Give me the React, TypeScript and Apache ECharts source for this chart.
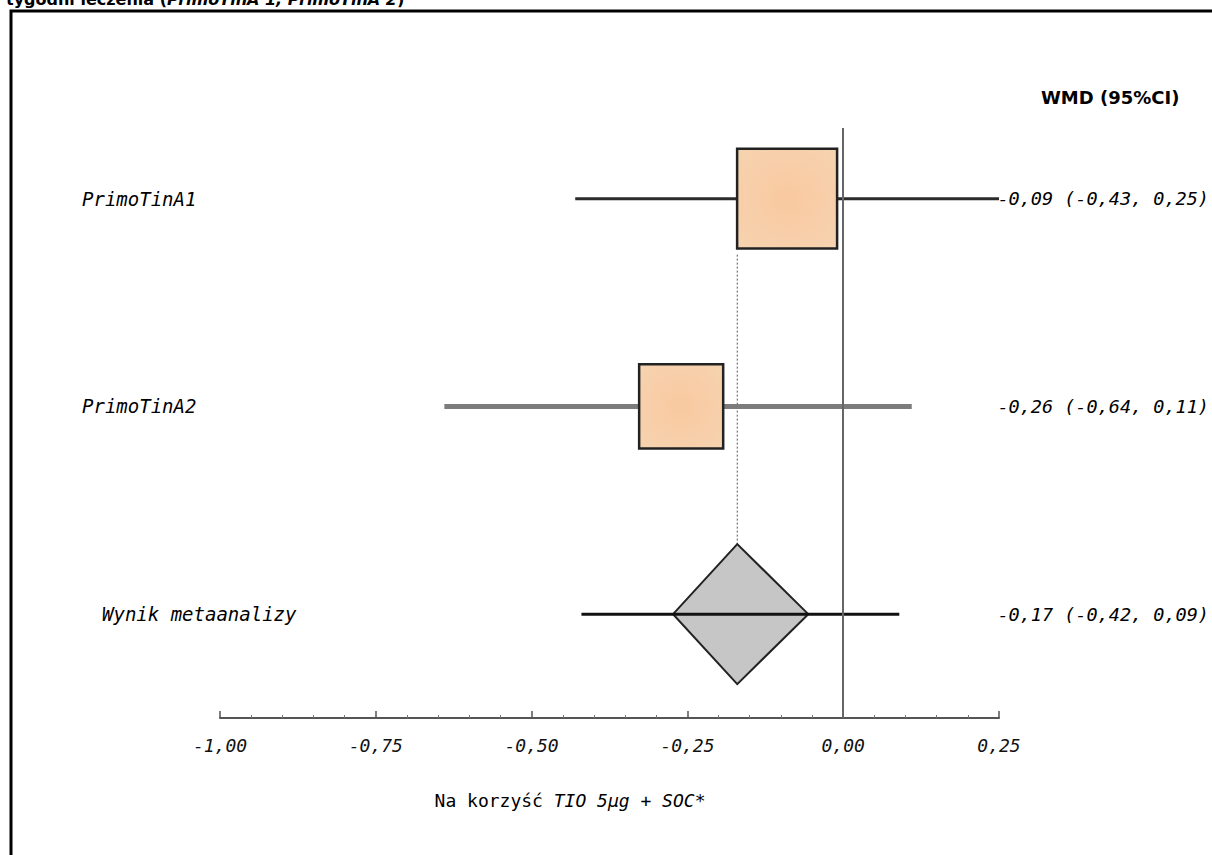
import React, { useEffect, useRef } from "react";
import * as echarts from "echarts";

// ---- data ----
const studyNames = ["PrimoTinA1", "PrimoTinA2"];
const studyRows = [2, 1];
const studyEstimates = [-0.09, -0.26];
const studyCiLow = [-0.43, -0.64];
const studyCiHigh = [0.25, 0.11];
const studyWeights = [58.6, 41.4];

const metaName = "Wynik metaanalizy";
const metaRow = 0;
const metaEstimate = -0.17;
const metaCiLow = -0.42;
const metaCiHigh = 0.09;
const metaDiamondLow = -0.273;
const metaDiamondHigh = -0.056;

const xMin = -1;
const xMax = 0.25;
const xInterval = 0.25;

const titleText = "tygodni leczenia (";
const titleItalic = "PrimoTinA 1, PrimoTinA 2";
const columnHeader = "WMD (95%CI)";
const axisNameNormal = "Na korzyść ";
const axisNameItalic = "TIO 5µg + SOC*";

// ---- styles ----
const MONO = '"DejaVu Sans Mono", monospace';
const SANS = '"DejaVu Sans", Verdana, sans-serif';
const BOX_SCALE = 13.06;
const DIAMOND_HALF = 70;
const ciStyles = [
  { color: "#2b2b2b", width: 3 },
  { color: "#7c7c7c", width: 5 },
];

const fmt = (v: number) => v.toFixed(2).replace(".", ",");

export default function App() {
  const ref = useRef<HTMLDivElement>(null);

  useEffect(() => {
    if (!ref.current) return;
    const chart = echarts.init(ref.current, null, { renderer: "svg" });

    const studyData = studyNames.map((_, i) => [
      studyEstimates[i],
      studyRows[i],
      studyCiLow[i],
      studyCiHigh[i],
      studyWeights[i],
    ]);
    const metaData = [[metaEstimate, metaRow, metaCiLow, metaCiHigh, metaDiamondLow, metaDiamondHigh]];
    const topRow = Math.max(...studyRows);
    const topIdx = studyRows.indexOf(topRow);

    const option: any = {
      animation: false,
      backgroundColor: "#ffffff",
      grid: { left: 220, right: 213, top: 128, bottom: 137 },
      xAxis: {
        type: "value",
        min: xMin,
        max: xMax,
        interval: xInterval,
        axisLine: { show: true, onZero: false, lineStyle: { color: "#555", width: 2 } },
        axisTick: { show: true, inside: true, length: 7, lineStyle: { color: "#555", width: 1.5 } },
        minorTick: { show: true, splitNumber: 5, length: 3, lineStyle: { color: "#777", width: 1 } },
        splitLine: { show: false },
        axisLabel: {
          formatter: (v: number) => fmt(v),
          fontFamily: MONO,
          fontStyle: "italic",
          fontSize: 18,
          color: "#111",
          margin: 18,
        },
      },
      yAxis: { type: "value", min: -0.5, max: 2.34, show: false },
      graphic: [
        {
          type: "rect",
          shape: { x: 11, y: 11, width: 1240, height: 880 },
          style: { fill: "none", stroke: "#000", lineWidth: 3 },
          silent: true,
        },
        {
          type: "text",
          x: 6,
          y: -1,
          style: {
            text: `{b|${titleText}}{bi|${titleItalic}}{b|)}`,
            verticalAlign: "middle",
            rich: {
              b: { fontFamily: SANS, fontWeight: "bold", fontSize: 16, fill: "#000" },
              bi: { fontFamily: SANS, fontWeight: "bold", fontStyle: "italic", fontSize: 16, fill: "#000" },
            },
          },
        },
        {
          type: "text",
          x: 1041,
          y: 97,
          style: {
            text: columnHeader,
            fontFamily: SANS,
            fontWeight: "bold",
            fontSize: 18,
            fill: "#000",
            verticalAlign: "middle",
          },
        },
        {
          type: "text",
          x: 570,
          y: 800,
          style: {
            text: `{n|${axisNameNormal}}{i|${axisNameItalic}}`,
            align: "center",
            verticalAlign: "middle",
            rich: {
              n: { fontFamily: MONO, fontSize: 18, fill: "#000" },
              i: { fontFamily: MONO, fontStyle: "italic", fontSize: 18, fill: "#000" },
            },
          },
        },
      ],
      series: [
        {
          type: "custom",
          name: "meta",
          coordinateSystem: "cartesian2d",
          clip: false,
          data: metaData,
          renderItem: (params: any, api: any) => {
            const est = api.value(0);
            const row = api.value(1);
            const c = api.coord([est, row]);
            const lo = api.coord([api.value(2), row]);
            const hi = api.coord([api.value(3), row]);
            const dl = api.coord([api.value(4), row]);
            const dh = api.coord([api.value(5), row]);
            const topBoxCenter = api.coord([est, topRow]);
            const topSide = BOX_SCALE * Math.sqrt(studyWeights[topIdx]);
            const label = `${fmt(metaEstimate)} (${fmt(metaCiLow)}, ${fmt(metaCiHigh)})`;
            return {
              type: "group",
              children: [
                {
                  type: "line",
                  shape: { x1: c[0], y1: topBoxCenter[1] + topSide / 2 + 6, x2: c[0], y2: c[1] - DIAMOND_HALF },
                  style: { stroke: "#555", lineWidth: 1, lineDash: [2, 2] },
                },
                {
                  type: "polygon",
                  shape: {
                    points: [
                      [dl[0], c[1]],
                      [c[0], c[1] - DIAMOND_HALF],
                      [dh[0], c[1]],
                      [c[0], c[1] + DIAMOND_HALF],
                    ],
                  },
                  style: { fill: "#c6c6c6", stroke: "#222", lineWidth: 2 },
                },
                {
                  type: "line",
                  shape: { x1: lo[0], y1: lo[1], x2: hi[0], y2: hi[1] },
                  style: { stroke: "#111", lineWidth: 3 },
                },
                {
                  type: "text",
                  x: 102,
                  y: c[1],
                  style: {
                    text: metaName,
                    fontFamily: MONO,
                    fontStyle: "italic",
                    fontSize: 19,
                    fill: "#000",
                    verticalAlign: "middle",
                  },
                },
                {
                  type: "text",
                  x: 1209,
                  y: c[1],
                  style: {
                    text: label,
                    fontFamily: MONO,
                    fontStyle: "italic",
                    fontSize: 18.5,
                    fill: "#000",
                    align: "right",
                    verticalAlign: "middle",
                  },
                },
              ],
            };
          },
          markLine: {
            silent: true,
            symbol: "none",
            label: { show: false },
            lineStyle: { color: "#666", width: 2, type: "solid" },
            data: [{ xAxis: 0 }],
          },
        },
        {
          type: "custom",
          name: "studies",
          coordinateSystem: "cartesian2d",
          clip: false,
          data: studyData,
          renderItem: (params: any, api: any) => {
            const i = params.dataIndex;
            const est = api.value(0);
            const row = api.value(1);
            const c = api.coord([est, row]);
            const lo = api.coord([api.value(2), row]);
            const hi = api.coord([api.value(3), row]);
            const side = BOX_SCALE * Math.sqrt(api.value(4));
            const ls = ciStyles[i];
            const label = `${fmt(studyEstimates[i])} (${fmt(studyCiLow[i])}, ${fmt(studyCiHigh[i])})`;
            return {
              type: "group",
              children: [
                {
                  type: "line",
                  shape: { x1: lo[0], y1: lo[1], x2: hi[0], y2: hi[1] },
                  style: { stroke: ls.color, lineWidth: ls.width },
                },
                {
                  type: "rect",
                  shape: { x: c[0] - side / 2, y: c[1] - side / 2, width: side, height: side },
                  style: {
                    fill: {
                      type: "radial",
                      x: 0.5,
                      y: 0.5,
                      r: 0.7,
                      colorStops: [
                        { offset: 0, color: "#f9c9a0" },
                        { offset: 1, color: "#f6d3b0" },
                      ],
                    },
                    stroke: "#222",
                    lineWidth: 2.5,
                  },
                },
                {
                  type: "text",
                  x: 82,
                  y: c[1],
                  style: {
                    text: studyNames[i],
                    fontFamily: MONO,
                    fontStyle: "italic",
                    fontSize: 19,
                    fill: "#000",
                    verticalAlign: "middle",
                  },
                },
                {
                  type: "text",
                  x: 1209,
                  y: c[1],
                  style: {
                    text: label,
                    fontFamily: MONO,
                    fontStyle: "italic",
                    fontSize: 18.5,
                    fill: "#000",
                    align: "right",
                    verticalAlign: "middle",
                  },
                },
              ],
            };
          },
        },
      ],
    };

    chart.setOption(option);
    return () => chart.dispose();
  }, []);

  return (
    <div
      ref={ref}
      style={{ position: "fixed", left: 0, top: 0, width: 1212, height: 855, background: "#fff" }}
    />
  );
}
